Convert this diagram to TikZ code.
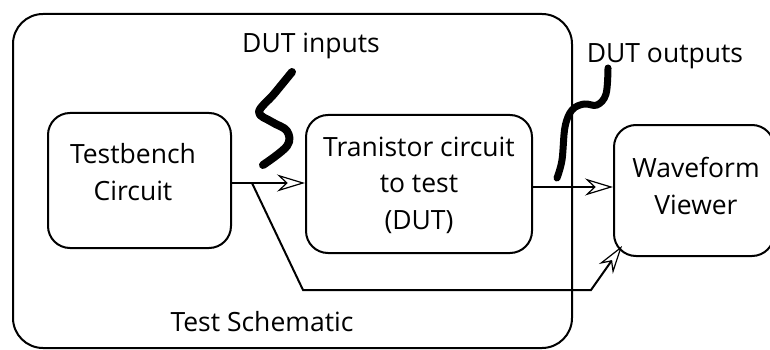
\documentclass[tikz,border=0pt]{standalone}
\usepackage{fontspec}
\setmainfont{Open Sans}
\usetikzlibrary{arrows.meta}
\begin{document}
\begin{tikzpicture}[x=1pt,y=-1pt,
  boxstyle/.style={draw,line width=2pt,rounded corners=22pt},
  lbl/.style={font=\fontsize{26.5}{36.5}\selectfont,align=center,inner sep=0pt},
  conn/.style={line width=2pt,-{Stealth[open,length=28pt,width=17pt,inset=9pt,line width=1.2pt]}},
  squig/.style={line width=8pt,line cap=round,line join=round}]
\useasboundingbox (0,0) rectangle (770,350);
\draw[line width=2pt,rounded corners=30pt] (13,14) rectangle (572,348);
\node[boxstyle,minimum width=183pt,minimum height=135pt] (tb) at (139.5,180.5) {};
\node[lbl] (tbt) at (133,172) {Testbench\\Circuit};
\node[boxstyle,minimum width=226pt,minimum height=138pt] (dut) at (419,184) {};
\node[lbl] (dutt) at (dut.center) [yshift=-1pt] {Tranistor circuit\\to test\\(DUT)};
\node[boxstyle,minimum width=160pt,minimum height=131pt] (wv) at (694,190.5) {};
\node[lbl] (wvt) at (696,186) {Waveform\\Viewer};
\node[lbl] (din) at (311,46) {DUT inputs};
\node[lbl] (dout) at (665,56) {DUT outputs};
\node[lbl] (ts) at (262,322) {Test Schematic};
\coordinate (br) at (252,183);
\coordinate (c1) at (303,290);
\coordinate (c2) at (591,290);
\coordinate (wvin) at (622,246);
\draw[conn] (tb.east |- 0,183) -- (dut.west |- 0,183);
\draw[conn] (dut.east |- 0,187) -- (wv.west |- 0,187);
\draw[conn] (br) -- (c1) -- (c2) -- (wvin);
\draw[squig] plot[smooth,tension=0.6] coordinates {(292,72) (274,94) (259,112) (272,122) (287,131) (287,146) (263,165)};
\draw[squig,line width=7pt] plot[smooth,tension=0.6] coordinates {(608,68) (606,94) (597,105) (584,104) (572,110) (565,127) (562,160) (557,178)};
\end{tikzpicture}
\end{document}
